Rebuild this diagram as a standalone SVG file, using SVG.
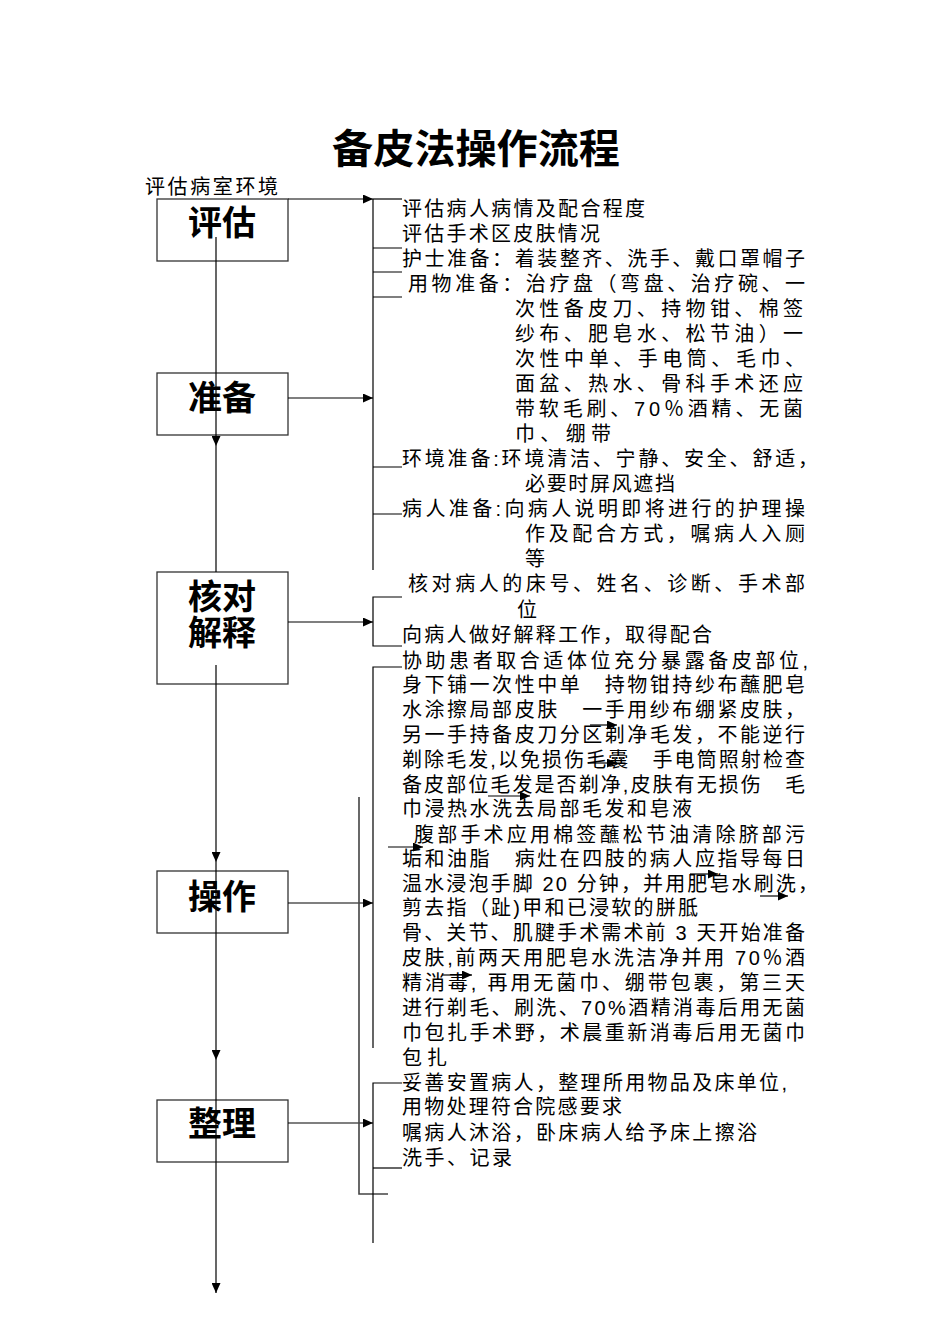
<svg xmlns="http://www.w3.org/2000/svg" width="950" height="1344" viewBox="0 0 950 1344">
<style>
.t{font-family:"Liberation Sans","Noto Sans CJK SC",sans-serif;font-size:20px;fill:#000}
.b{font-family:"Liberation Sans","Noto Sans CJK SC",sans-serif;font-size:34px;font-weight:700;fill:#000;text-anchor:middle}
.title{font-family:"Liberation Sans","Noto Sans CJK SC",sans-serif;font-size:40px;font-weight:700;fill:#000}
.box{fill:none;stroke:#333;stroke-width:1.3}
.ln{fill:none;stroke:#000;stroke-width:1.2}
.ln2{fill:none;stroke:#444;stroke-width:1.6}
</style>
<defs>
<marker id="ah" markerUnits="userSpaceOnUse" markerWidth="10" markerHeight="9" refX="10" refY="4.5" orient="auto">
<path d="M0,0 L10,4.5 L0,9 z" fill="#000"/>
</marker>
</defs>
<rect width="950" height="1344" fill="#fff"/>
<text class="title" x="332" y="163" textLength="288" lengthAdjust="spacingAndGlyphs">备皮法操作流程</text>
<text class="t" x="145" y="194" textLength="133" lengthAdjust="spacing">评估病室环境</text>

<g id="node-pinggu">
<rect class="box" x="157" y="199" width="131" height="62"/>
<text class="b" x="222" y="235">评估</text>
</g>
<g id="node-zhunbei">
<rect class="box" x="157" y="373" width="131" height="62"/>
<text class="b" x="222" y="410">准备</text>
</g>
<g id="node-hedui">
<rect class="box" x="157" y="572" width="131" height="112"/>
<text class="b" x="222" y="609"><tspan x="222" y="609">核对</tspan><tspan x="222" y="645">解释</tspan></text>
</g>
<g id="node-caozuo">
<rect class="box" x="157" y="871" width="131" height="62"/>
<text class="b" x="222" y="909">操作</text>
</g>
<g id="node-zhengli">
<rect class="box" x="157" y="1100" width="131" height="62"/>
<text class="b" x="222" y="1136">整理</text>
</g>

<g id="text-pinggu">
<text class="t" x="402" y="216" textLength="243" lengthAdjust="spacing">评估病人病情及配合程度</text>
<text class="t" x="402" y="241" textLength="198" lengthAdjust="spacing">评估手术区皮肤情况</text>
</g>
<g id="text-zhunbei">
<text class="t" x="402" y="266" textLength="403" lengthAdjust="spacing">护士准备：着装整齐、洗手、戴口罩帽子</text>
<text class="t" x="408" y="291" textLength="397" lengthAdjust="spacing">用物准备：治疗盘（弯盘、治疗碗、一</text>
<text class="t" x="515" y="316" textLength="288" lengthAdjust="spacing">次性备皮刀、持物钳、棉签</text>
<text class="t" x="515" y="341" textLength="288" lengthAdjust="spacing">纱布、肥皂水、松节油）一</text>
<text class="t" x="515" y="366" textLength="290" lengthAdjust="spacing">次性中单、手电筒、毛巾、</text>
<text class="t" x="515" y="391" textLength="288" lengthAdjust="spacing">面盆、热水、骨科手术还应</text>
<text class="t" x="515" y="416" textLength="288" lengthAdjust="spacing">带软毛刷、70％酒精、无菌</text>
<text class="t" x="515" y="441" textLength="96" lengthAdjust="spacing">巾、绷带</text>
<text class="t" x="402" y="466" textLength="416" lengthAdjust="spacing">环境准备:环境清洁、宁静、安全、舒适，</text>
<text class="t" x="525" y="491" textLength="150" lengthAdjust="spacing">必要时屏风遮挡</text>
<text class="t" x="402" y="516" textLength="403" lengthAdjust="spacing">病人准备:向病人说明即将进行的护理操</text>
<text class="t" x="525" y="541" textLength="280" lengthAdjust="spacing">作及配合方式，嘱病人入厕</text>
<text class="t" x="525" y="566">等</text>
</g>
<g id="text-hedui">
<text class="t" x="408" y="591" textLength="397" lengthAdjust="spacing">核对病人的床号、姓名、诊断、手术部</text>
<text class="t" x="517" y="617">位</text>
<text class="t" x="402" y="642" textLength="310" lengthAdjust="spacing">向病人做好解释工作，取得配合</text>
</g>
<g id="text-caozuo">
<text class="t" x="402" y="668" textLength="406" lengthAdjust="spacing">协助患者取合适体位充分暴露备皮部位,</text>
<text class="t" x="402" y="692" textLength="403" lengthAdjust="spacing">身下铺一次性中单　持物钳持纱布蘸肥皂</text>
<text class="t" x="402" y="717" textLength="403" lengthAdjust="spacing">水涂擦局部皮肤　一手用纱布绷紧皮肤，</text>
<text class="t" x="402" y="742" textLength="403" lengthAdjust="spacing">另一手持备皮刀分区剃净毛发，不能逆行</text>
<text class="t" x="402" y="767" textLength="403" lengthAdjust="spacing">剃除毛发,以免损伤毛囊　手电筒照射检查</text>
<text class="t" x="402" y="792" textLength="403" lengthAdjust="spacing">备皮部位毛发是否剃净,皮肤有无损伤　毛</text>
<text class="t" x="402" y="816" textLength="290" lengthAdjust="spacing">巾浸热水洗去局部毛发和皂液</text>
<text class="t" x="414" y="842" textLength="391" lengthAdjust="spacing">腹部手术应用棉签蘸松节油清除脐部污</text>
<text class="t" x="402" y="866" textLength="403" lengthAdjust="spacing">垢和油脂　病灶在四肢的病人应指导每日</text>
<text class="t" x="402" y="891" textLength="416" lengthAdjust="spacing">温水浸泡手脚 20 分钟，并用肥皂水刷洗，</text>
<text class="t" x="402" y="915" textLength="296" lengthAdjust="spacing">剪去指（趾)甲和已浸软的胼胝</text>
<text class="t" x="402" y="940" textLength="403" lengthAdjust="spacing">骨、关节、肌腱手术需术前 3 天开始准备</text>
<text class="t" x="402" y="965" textLength="403" lengthAdjust="spacing">皮肤,前两天用肥皂水洗洁净并用 70％酒</text>
<text class="t" x="402" y="990" textLength="403" lengthAdjust="spacing">精消毒, 再用无菌巾、绷带包裹，第三天</text>
<text class="t" x="402" y="1015" textLength="403" lengthAdjust="spacing">进行剃毛、刷洗、70%酒精消毒后用无菌</text>
<text class="t" x="402" y="1040" textLength="403" lengthAdjust="spacing">巾包扎手术野，术晨重新消毒后用无菌巾</text>
<text class="t" x="402" y="1065" textLength="45" lengthAdjust="spacing">包扎</text>
</g>
<g id="text-zhengli">
<text class="t" x="402" y="1090" textLength="385" lengthAdjust="spacing">妥善安置病人，整理所用物品及床单位,</text>
<text class="t" x="402" y="1114" textLength="220" lengthAdjust="spacing">用物处理符合院感要求</text>
<text class="t" x="402" y="1140" textLength="355" lengthAdjust="spacing">嘱病人沐浴，卧床病人给予床上擦浴</text>
<text class="t" x="402" y="1165" textLength="110" lengthAdjust="spacing">洗手、记录</text>
</g>

<g id="connectors">
<path class="ln" d="M216,237 V446" marker-end="url(#ah)"/>
<path class="ln" d="M216,446 V572"/>
<path class="ln" d="M216,665 V862" marker-end="url(#ah)"/>
<path class="ln" d="M216,862 V1060" marker-end="url(#ah)"/>
<path class="ln" d="M216,1060 V1293" marker-end="url(#ah)"/>

<path class="ln" d="M288,199 H373" marker-end="url(#ah)"/>
<path class="ln" d="M373,199 H402"/>
<path class="ln" d="M288,398 H373" marker-end="url(#ah)"/>
<path class="ln" d="M288,622 H373" marker-end="url(#ah)"/>
<path class="ln" d="M288,903 H373" marker-end="url(#ah)"/>
<path class="ln" d="M288,1123 H373" marker-end="url(#ah)"/>

<path class="ln" d="M373,199 V570"/>
<path class="ln" d="M373,248 H402 M373,272 H402 M373,297 H402 M373,467 H402 M373,514 H402"/>
<path class="ln" d="M402,597 H373 V646 H402"/>
<path class="ln" d="M402,667 H373 V1048"/>
<path class="ln2" d="M359,797 V1194 H388"/>
<path class="ln" d="M402,1083 H373 V1243"/>
<path class="ln" d="M373,1168 H402"/>

<path class="ln" d="M590,725 H617" marker-end="url(#ah)"/>
<path class="ln" d="M588,763 H617" marker-end="url(#ah)"/>
<path class="ln" d="M488,796 H530" marker-end="url(#ah)"/>
<path class="ln" d="M388,847 H423" marker-end="url(#ah)"/>
<path class="ln" d="M690,874 H718" marker-end="url(#ah)"/>
<path class="ln" d="M760,896 H788" marker-end="url(#ah)"/>
<path class="ln" d="M442,975 H472" marker-end="url(#ah)"/>
</g>
</svg>
